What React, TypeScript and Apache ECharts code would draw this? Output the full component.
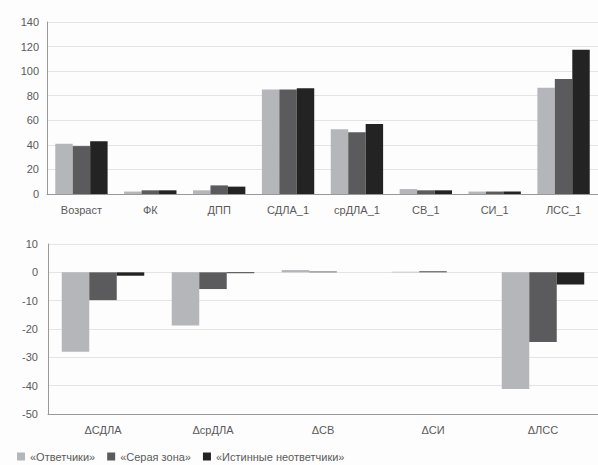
import React, { useEffect, useRef } from "react";
import * as echarts from "echarts";

const topCategories = ["Возраст", "ФК", "ДПП", "СДЛА_1", "срДЛА_1", "СВ_1", "СИ_1", "ЛСС_1"];
const topResponders = [41, 2, 3, 85, 52.7, 4, 2, 86.5];
const topGray = [39, 3, 7, 85, 50.3, 3, 2, 93.7];
const topNonResponders = [43, 3, 6, 86, 57, 3, 2, 117.4];

const bottomCategories = ["ΔСДЛА", "ΔсрДЛА", "ΔСВ", "ΔСИ", "ΔЛСС"];
const bottomResponders = [-28, -18.8, 0.8, 0.2, -41.2];
const bottomGray = [-9.8, -5.9, 0.3, 0.4, -24.6];
const bottomNonResponders = [-1.2, -0.3, 0, 0, -4.3];

const seriesNames = ["«Ответчики»", "«Серая зона»", "«Истинные неответчики»"];
const colors = ["#b5b6b9", "#5b5b5e", "#232323"];

export default function App() {
  const ref = useRef<HTMLDivElement>(null);
  useEffect(() => {
    document.body.style.margin = "0";
    const chart = echarts.init(ref.current!, null, { renderer: "svg" });
    const font = "'Liberation Sans', Arial, sans-serif";
    const axisLabel = { color: "#5a5a5a", fontSize: 11, fontFamily: font };
    const mk = (name: string, data: number[], idx: number, color: string) => ({
      type: "bar",
      name,
      data,
      xAxisIndex: idx,
      yAxisIndex: idx,
      barGap: "0%",
      barCategoryGap: idx === 0 ? "24%" : "25%",
      itemStyle: { color },
    });
    chart.setOption({
      animation: false,
      backgroundColor: "#fdfdfd",
      color: colors,
      grid: [
        { left: 47, right: 0, top: 22, height: 172 },
        { left: 48, right: 0, top: 244, height: 170 },
      ],
      xAxis: [
        {
          type: "category",
          gridIndex: 0,
          data: topCategories,
          axisLine: { lineStyle: { color: "#999" } },
          axisTick: { length: 3, lineStyle: { color: "#999" } },
          axisLabel: { ...axisLabel, margin: 10 },
        },
        {
          type: "category",
          gridIndex: 1,
          data: bottomCategories,
          axisLine: { onZero: false, lineStyle: { color: "#999" } },
          axisTick: { length: 3, lineStyle: { color: "#999" } },
          axisLabel: { ...axisLabel, margin: 10 },
        },
      ],
      yAxis: [
        {
          type: "value",
          gridIndex: 0,
          min: 0,
          max: 140,
          interval: 20,
          axisLine: { show: true, lineStyle: { color: "#999" } },
          axisTick: { show: false },
          axisLabel: { ...axisLabel, margin: 8 },
          splitLine: { lineStyle: { color: "#e4e4e4" } },
        },
        {
          type: "value",
          gridIndex: 1,
          min: -50,
          max: 10,
          interval: 10,
          axisLine: { show: true, lineStyle: { color: "#999" } },
          axisTick: { show: false },
          axisLabel: { ...axisLabel, margin: 10 },
          splitLine: { lineStyle: { color: "#e4e4e4" } },
        },
      ],
      legend: {
        data: seriesNames,
        left: 12,
        top: 446,
        itemWidth: 8,
        itemHeight: 8,
        itemGap: 12,
        icon: "rect",
        textStyle: { color: "#5a5a5a", fontSize: 11, fontFamily: font },
      },
      series: [
        mk(seriesNames[0], topResponders, 0, colors[0]),
        mk(seriesNames[1], topGray, 0, colors[1]),
        mk(seriesNames[2], topNonResponders, 0, colors[2]),
        mk(seriesNames[0], bottomResponders, 1, colors[0]),
        mk(seriesNames[1], bottomGray, 1, colors[1]),
        mk(seriesNames[2], bottomNonResponders, 1, colors[2]),
      ],
    });
    return () => chart.dispose();
  }, []);
  return <div ref={ref} style={{ position: "fixed", left: 0, top: 0, width: 598, height: 465 }} />;
}
